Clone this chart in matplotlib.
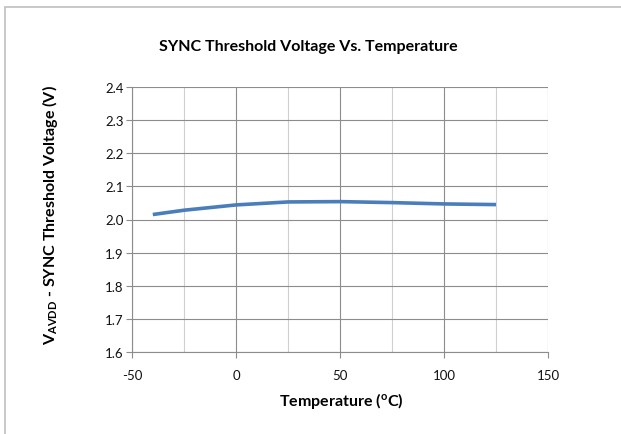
import matplotlib.pyplot as plt
import numpy as np
from matplotlib.patches import Rectangle

plt.rcParams['font.family'] = ['Lato', 'DejaVu Sans']
plt.rcParams['mathtext.fontset'] = 'custom'
plt.rcParams['mathtext.rm'] = 'Lato:bold'
plt.rcParams['mathtext.default'] = 'rm'
plt.rcParams['axes.unicode_minus'] = False

temp = [-40, -25, 0, 25, 50, 75, 100, 125]
volt = [2.015, 2.028, 2.044, 2.053, 2.054, 2.051, 2.047, 2.045]
xticks = [-50, 0, 50, 100, 150]
yticks = [1.6, 1.7, 1.8, 1.9, 2.0, 2.1, 2.2, 2.3, 2.4]

fig = plt.figure(figsize=(6.21, 4.35), dpi=100)
ax = fig.add_axes([132/621, 1-353/435, (548-132)/621, (353-88)/435])

# chart border like excel
fig.patches.append(Rectangle((5/621, -0.1), 1.2, 1-8/435+0.1, transform=fig.transFigure,
                             fill=False, edgecolor='#bfbfbf', linewidth=1.2))

ax.plot(temp, volt, color='#4a7ebb', linewidth=2.6, solid_capstyle='butt')

ax.set_xlim(-50, 150)
ax.set_ylim(1.6, 2.4)
ax.set_xticks(xticks)
ax.set_xticks([-25, 25, 75, 125], minor=True)
ax.set_yticks(yticks)
ax.set_yticklabels(['%.1f' % v for v in yticks])
ax.grid(True, which='major', color='#8c8c8c', linewidth=0.8)
ax.grid(True, which='minor', axis='x', color='#d0d0d0', linewidth=0.8)
ax.set_axisbelow(True)
for s in ['top', 'right']:
    ax.spines[s].set_visible(False)
for s in ['left', 'bottom']:
    ax.spines[s].set_color('#8c8c8c')
ax.tick_params(which='major', length=4, color='#8c8c8c', labelsize=9.5, labelcolor='#111111')
ax.tick_params(which='minor', length=0)
ax.tick_params(axis='y', pad=2)
ax.tick_params(axis='x', pad=8)

fig.text(308/621, 1-47/435, 'SYNC Threshold Voltage Vs. Temperature', fontsize=11.5,
         fontweight='bold', ha='center', va='center')
fig.text(341/621, 1-401/435, 'Temperature ($^{o}$C)', fontsize=11.5,
         fontweight='bold', ha='center', va='center')
fig.text(50/621, 1-215/435, 'V$_{AVDD}$ - SYNC Threshold Voltage (V)', fontsize=11.5,
         fontweight='bold', ha='center', va='center', rotation=90)

plt.savefig('out.png', dpi=100)
